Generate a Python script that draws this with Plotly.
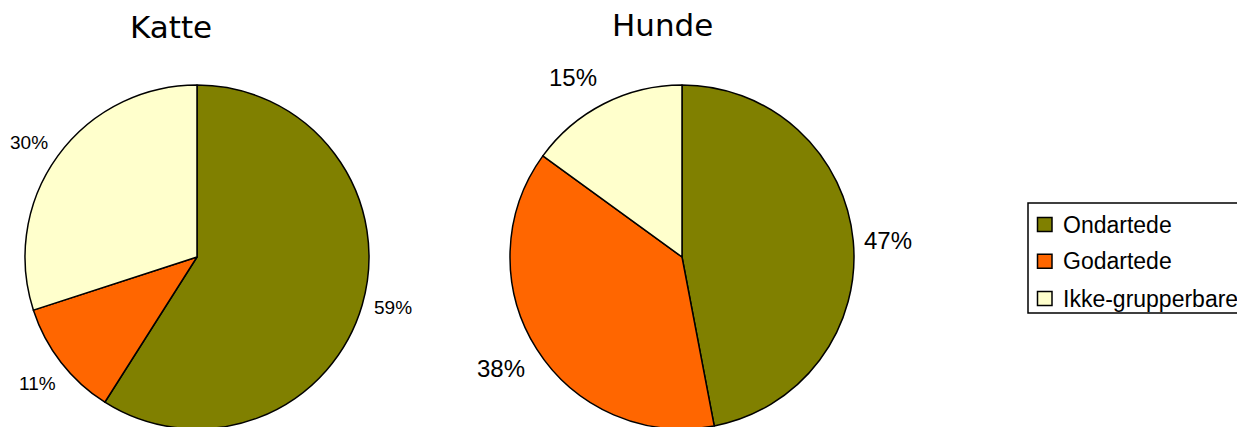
import math
import plotly.graph_objects as go

categories = ["Ondartede", "Godartede", "Ikke-grupperbare"]
katte_values = [59, 11, 30]
hunde_values = [47, 38, 15]
colors = ["#808000", "#FF6600", "#FFFFCC"]

W, H = 1245, 427
OFF = 8  # page body margin: screen px = figure px + 8


def px(x):
    return (x - OFF) / W


def py(y):
    return 1 - (y - OFF) / H


fig = go.Figure()

pies = [
    dict(name="Katte", values=katte_values, cx=197, cy=257, r=172, dist=1.19, fs=19, tx=171, ty=27,
         nudge=[(-1, -7), (2, 1), (-2, 6)]),
    dict(name="Hunde", values=hunde_values, cx=682, cy=257, r=172, dist=1.215, fs=24, tx=662, ty=25,
         nudge=[(-2, 3), (-5, 0), (-14, 7)]),
]

for p in pies:
    cx, cy, r = p["cx"], p["cy"], p["r"]
    fig.add_trace(go.Pie(
        labels=categories, values=p["values"], name=p["name"],
        sort=False, direction="clockwise", rotation=0,
        marker=dict(colors=colors, line=dict(color="black", width=1.5)),
        textinfo="none", hoverinfo="label+percent",
        domain=dict(x=[px(cx - r), px(cx + r)], y=[max(0, py(cy + r)), py(cy - r)]),
        showlegend=False,
    ))
    total = sum(p["values"])
    cum = 0
    for v, (ndx, ndy) in zip(p["values"], p["nudge"]):
        mid = (cum + v / 2) / total * 2 * math.pi
        cum += v
        lx = cx + p["dist"] * r * math.sin(mid) + ndx
        ly = cy - p["dist"] * r * math.cos(mid) + ndy
        fig.add_annotation(
            x=px(lx), y=py(ly), xref="paper", yref="paper",
            text=f"{round(v / total * 100)}%", showarrow=False,
            xanchor="center", yanchor="middle",
            font=dict(family="Liberation Sans, Arial, sans-serif", size=p["fs"], color="black"),
        )
    fig.add_annotation(
        x=px(p["tx"]), y=py(p["ty"]), xref="paper", yref="paper",
        text=p["name"], showarrow=False, xanchor="center", yanchor="middle",
        font=dict(family="DejaVu Sans, Verdana, sans-serif", size=31, color="black"),
    )

# Legend (box, swatches, labels)
fig.add_shape(type="rect", xref="paper", yref="paper",
              x0=px(1028), x1=px(1260), y0=py(313), y1=py(203),
              line=dict(color="black", width=1.5), fillcolor="white", layer="below")
row_y = [224.5, 261.3, 298.5]
for cat, col, yy in zip(categories, colors, row_y):
    fig.add_shape(type="rect", xref="paper", yref="paper",
                  x0=px(1037.5), x1=px(1052), y0=py(yy + 7), y1=py(yy - 7),
                  line=dict(color="black", width=1.5), fillcolor=col)
    fig.add_annotation(
        x=px(1061), y=py(yy), xref="paper", yref="paper",
        text=cat, showarrow=False, xanchor="left", yanchor="middle",
        font=dict(family="Liberation Sans, Arial, sans-serif", size=23, color="black"),
    )

fig.update_layout(
    width=W, height=H,
    margin=dict(l=0, r=0, t=0, b=0),
    paper_bgcolor="white", plot_bgcolor="white",
    showlegend=False,
)

fig.write_html("out.html")
